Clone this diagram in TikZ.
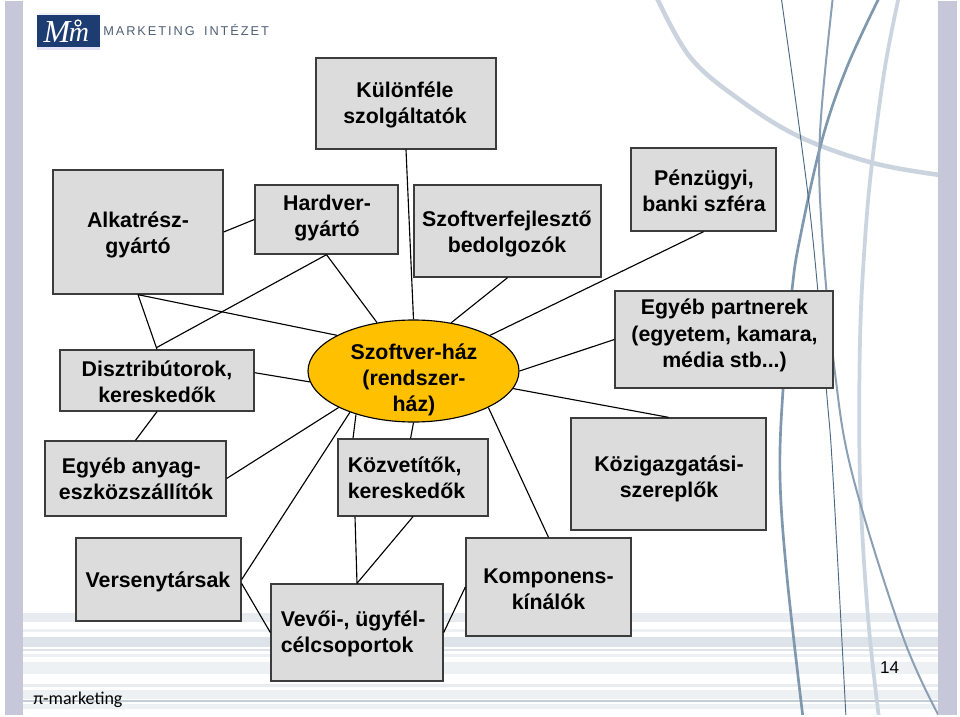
\documentclass[tikz,border=0pt]{standalone}
\usepackage{fontspec}
\setmainfont{Liberation Sans}
\newfontfamily\calib{Carlito}
\newfontfamily\logofont[LetterSpace=15]{Liberation Sans}
\newfontfamily\logoserif{Liberation Serif}
\usetikzlibrary{calc,shapes.geometric}
\definecolor{barc}{HTML}{C6C7D9}
\definecolor{boxf}{HTML}{DCDCDC}
\definecolor{boxd}{HTML}{3C3C3C}
\definecolor{ellf}{HTML}{FFC000}
\definecolor{logob}{HTML}{1D3D72}
\definecolor{stra}{HTML}{E8ECF0}
\definecolor{strb}{HTML}{DDE3E9}
\definecolor{strc}{HTML}{EEF1F4}
\definecolor{strd}{HTML}{C5CED6}
\tikzset{
  boxn/.style={draw=boxd,fill=boxf,line width=1pt,inner sep=0pt,rectangle},
  lbl/.style={font=\bfseries\fontsize{16}{19.6}\selectfont,align=center,inner sep=0pt,text=black},
  link/.style={draw=black,line width=0.85pt},
}
\begin{document}
\begin{tikzpicture}[x=0.75pt,y=-0.75pt]
\useasboundingbox (0,0) rectangle (960,717);
\fill[white] (0,0) rectangle (960,717);
% bottom stripes
\fill[stra] (23,613) rectangle (938,622);
\fill[strc] (23,629) rectangle (938,632);
\fill[strb] (23,637) rectangle (938,647);
\fill[strb] (23,649) rectangle (938,651);
\fill[strc] (23,654) rectangle (938,657);
\fill[strc] (23,662) rectangle (938,674);
\fill[stra] (23,684) rectangle (938,687);
\fill[strc] (23,690) rectangle (938,699);
\fill[strd] (23,699.5) rectangle (938,701.5);
\fill[strc] (23,704) rectangle (938,709);
% sweeping curves
\begin{scope}
\clip (23,1) rectangle (938,714);
\draw[line width=3.4pt,color={rgb,255:red,203;green,212;blue,222}] plot[smooth,tension=0.6] coordinates {(656,-4) (690,57) (740,100) (800,137) (873,163) (940,175)};
\draw[line width=2.8pt,color={rgb,255:red,203;green,213;blue,223}] plot[smooth,tension=0.6] coordinates {(899,-4) (885,67) (872,163) (865,240) (860,340) (860,480) (868,617) (879,718)};
\draw[line width=2pt,color={rgb,255:red,127;green,152;blue,174}] plot[smooth,tension=0.6] coordinates {(880,-4) (847,67) (822,140) (800,238) (792,290) (783,390) (780,477) (787,577) (803,718)};
\draw[line width=1.5pt,color={rgb,255:red,139;green,160;blue,181}] plot[smooth,tension=0.6] coordinates {(833,-4) (820,133) (822,233) (835,373) (853,477) (903,637) (940,718)};
\draw[line width=0.7pt,color={rgb,255:red,76;green,106;blue,133}] plot[smooth,tension=0.6] coordinates {(781,-4) (800,133) (813,240) (827,397) (833,477) (846,718)};
\end{scope}
% side bars
\fill[barc] (5,1) rectangle (23.3,715);
\fill[barc] (938.3,1) rectangle (956.7,715);
% logo
\fill[black!18!blue!6!white] (39,13) rectangle (98,15.5);
\fill[black!30!blue!10!white] (37,47) rectangle (100,50);
\fill[logob] (37,15.5) rectangle (100,47);
\node[inner sep=0pt,text=white,font=\logoserif\itshape\fontsize{24}{24}\selectfont] (logom) at (57,32) {M};
\node[inner sep=0pt,text=white,font=\logoserif\itshape\fontsize{21}{21}\selectfont] (logon) at (79,35) {m};
\draw[white,line width=0.9pt] (78,23) circle (3);
\node[anchor=west,inner sep=0pt,text={rgb,255:red,80;green,96;blue,118},font=\logofont\fontsize{9.6}{10}\selectfont] (logot) at (103,30.5) {MARKETING\hspace{7pt}INTÉZET};
% boxes
\node[boxn,minimum width=135pt,minimum height=68.25pt] (kul) at (406,103.5) {};
\node[boxn,minimum width=127.5pt,minimum height=93pt] (alk) at (138,232) {};
\node[boxn,minimum width=107.25pt,minimum height=51.75pt] (har) at (326.5,219.5) {};
\node[boxn,minimum width=140.25pt,minimum height=69pt] (szf) at (507.5,231) {};
\node[boxn,minimum width=108.75pt,minimum height=62.25pt] (pen) at (703.5,189.5) {};
\node[boxn,minimum width=145.5pt,minimum height=45.75pt] (dis) at (157,380.5) {};
\node[boxn,minimum width=163.5pt,minimum height=72.75pt] (egp) at (724,339.5) {};
\node[boxn,minimum width=135.75pt,minimum height=56.25pt] (any) at (135.5,478.5) {};
\node[boxn,minimum width=112.5pt,minimum height=57.75pt] (koz) at (413,477.5) {};
\node[boxn,minimum width=146.25pt,minimum height=84pt] (kig) at (668.5,474) {};
\node[boxn,minimum width=123.75pt,minimum height=62.25pt] (ver) at (158.5,579.5) {};
\node[boxn,minimum width=129pt,minimum height=72.75pt] (vev) at (357,632.5) {};
\node[boxn,minimum width=123.75pt,minimum height=73.5pt] (kom) at (548.5,587) {};
\node[ellipse,draw=black,fill=ellf,line width=0.85pt,inner sep=0pt,minimum width=158.25pt,minimum height=76.5pt] (ell) at (413.5,371) {};
% connectors
\draw[link] (kul.south) -- (ell.north);
\draw[link] (szf.south) -- (ell.52);
\draw[link] (pen.south) -- (ell.25.4);
\draw[link] (egp.west) -- (ell.east);
\draw[link] (kig.north) -- (ell.-10);
\draw[link] (kom.north) -- (ell.-26.5);
\draw[link] ([xshift=-1.8pt]koz.north) -- (ell.south);
\draw[link] ([xshift=-45pt]koz.north) -- (ell.217);
\draw[link] (ver.east) -- (ell.213.8);
\draw[link] (any.east) -- (ell.206.6);
\draw[link] ([yshift=5.85pt]dis.east) -- (ell.186);
\draw[link] (alk.south) -- (ell.155);
\draw[link] (alk.south) -- (dis.north);
\draw[link] (har.south) -- ([yshift=1.5pt]dis.north);
\draw[link] (har.south) -- (ell.127);
\draw[link] (dis.south) -- (any.north);
\draw[link] (alk.east) -- (har.west);
\draw[link] ([xshift=-43.5pt]koz.south) -- (vev.north);
\draw[link] (koz.south) -- (vev.north);
\draw[link] ([yshift=-3pt]ver.east) -- (vev.west);
\draw[link] (vev.east) -- (kom.west);
% labels
\node[lbl] (tkul) at (405,105) {Különféle\\szolgáltatók};
\node[lbl] (talk) at (138,235) {Alkatrész-\\gyártó};
\node[lbl] (thar) at (327,218) {Hardver-\\gyártó};
\node[lbl] (tszf) at (507,234) {Szoftverfejlesztő\\bedolgozók};
\node[lbl] (tpen) at (704,191) {Pénzügyi,\\banki szféra};
\node[lbl] (tdis) at (157,381.5) {Disztribútorok,\\kereskedők};
\node[lbl] (tegp) at (724.5,335.5) {Egyéb partnerek\\(egyetem, kamara,\\média stb...)};
\node[lbl] (tany) at (136,479) {Egyéb anyag-\hspace*{7pt}\\eszközszállítók};
\node[lbl,align=left,anchor=west] (tkoz) at (347.5,478) {Közvetítők,\\kereskedők};
\node[lbl] (tkig) at (669,478.5) {Közigazgatási-\\szereplők};
\node[lbl] (tell) at (414,380) {Szoftver-ház\\(rendszer-\\ház)};
\node[lbl] (tver) at (158,582) {Versenytársak};
\node[lbl,align=left,anchor=west] (tvev) at (280.5,634) {Vevői-, ügyfél-\\célcsoportok};
\node[lbl] (tkom) at (548.5,589) {Komponens-\\kínálók};
\node[inner sep=0pt,font=\fontsize{12.8}{14}\selectfont] (page) at (889.5,668) {14};
\node[anchor=west,inner sep=0pt,font=\calib\fontsize{13.5}{15}\selectfont] (foot) at (33,700) {π-marketing};
\end{tikzpicture}
\end{document}
